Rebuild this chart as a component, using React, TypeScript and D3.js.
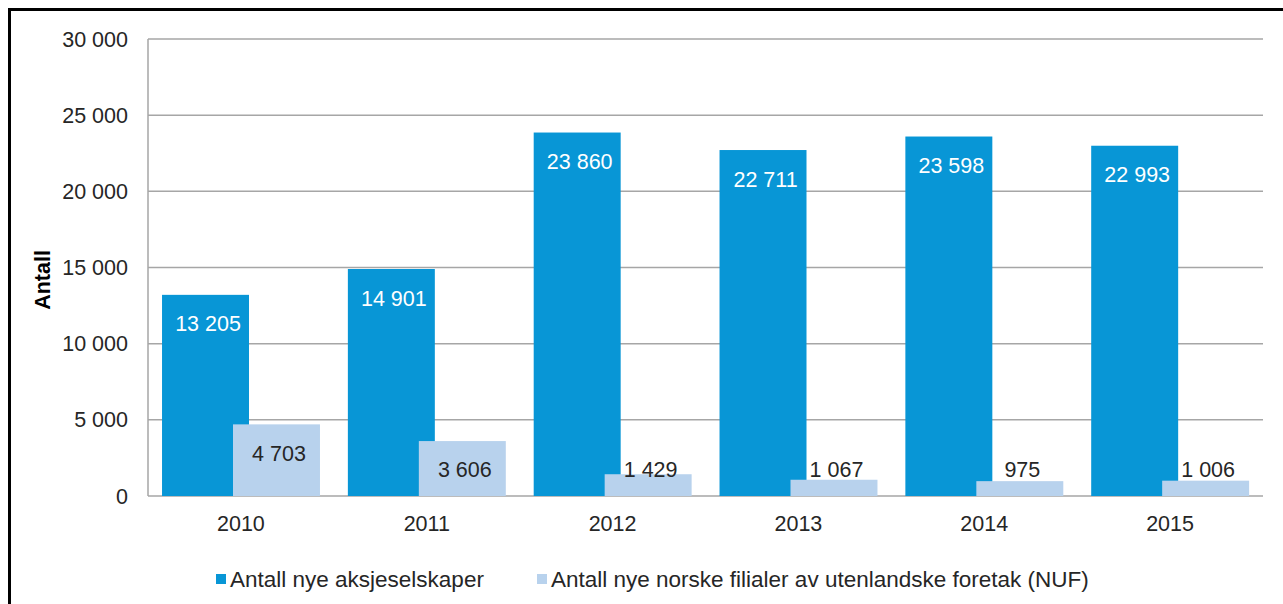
import React from 'react';
import * as d3 from 'd3';

const years = ['2010', '2011', '2012', '2013', '2014', '2015'];
const aksjeselskaper = [13205, 14901, 23860, 22711, 23598, 22993];
const nuf = [4703, 3606, 1429, 1067, 975, 1006];
const yTicks = [0, 5000, 10000, 15000, 20000, 25000, 30000];
const seriesNames = [
  'Antall nye aksjeselskaper',
  'Antall nye norske filialer av utenlandske foretak (NUF)',
];

const W = 1283;
const H = 604;
const FONT = '"Liberation Sans", Arial, sans-serif';
const BLUE = '#0896d6';
const LIGHT = '#b8d2ed';
const TEXT = '#262626';

const fmt = (v: number) => d3.format(',')(v).replace(/,/g, ' ');

export default function App() {
  const x = d3.scaleBand().domain(years).range([148, 1263]).padding(0);
  const y = d3.scaleLinear().domain([0, 30000]).range([496, 39]);
  const bw = x.bandwidth();
  const barW = bw * 0.468;
  const off1 = bw * 0.0755;
  const off2 = off1 + barW * 0.816;

  return (
    <svg
      width={W}
      height={H}
      style={{ position: 'absolute', left: 0, top: 0, background: '#fff' }}
      fontFamily={FONT}
    >
      <rect x={9.5} y={9.5} width={W + 20} height={H + 20} fill="none" stroke="#000" strokeWidth={3} />

      {yTicks.map((t) => (
        <g key={t}>
          <line x1={148} x2={1263} y1={y(t)} y2={y(t)} stroke="#a6a6a6" strokeWidth={1.5} />
          <text x={128} y={y(t)} dy="0.35em" textAnchor="end" fontSize={21.5} fill={TEXT}>
            {fmt(t)}
          </text>
        </g>
      ))}
      <line x1={148} x2={148} y1={y(30000)} y2={y(0)} stroke="#a6a6a6" strokeWidth={1.5} />

      <text
        transform="translate(50,280) rotate(-90)"
        textAnchor="middle"
        fontSize={21.5}
        fontWeight="bold"
        fill="#000"
      >
        Antall
      </text>

      {years.map((yr, i) => {
        const x0 = x(yr)!;
        const t1 = y(aksjeselskaper[i]);
        const t2 = y(nuf[i]);
        return (
          <g key={yr}>
            <rect x={x0 + off1} y={t1} width={barW} height={y(0) - t1} fill={BLUE} />
            <rect x={x0 + off2} y={t2} width={barW} height={y(0) - t2} fill={LIGHT} />
            <text
              x={x0 + off1 + barW / 2 + 2.5}
              y={t1 + 29}
              dy="0.35em"
              textAnchor="middle"
              fontSize={21.5}
              fill="#fff"
            >
              {fmt(aksjeselskaper[i])}
            </text>
            <text
              x={x0 + off2 + barW / 2 + 2.5}
              y={Math.min(t2 + 29, 469)}
              dy="0.35em"
              textAnchor="middle"
              fontSize={21.5}
              fill={TEXT}
            >
              {fmt(nuf[i])}
            </text>
            <text x={x0 + bw / 2} y={523} dy="0.35em" textAnchor="middle" fontSize={21.5} fill={TEXT}>
              {yr}
            </text>
          </g>
        );
      })}

      {seriesNames.map((name, i) => {
        const lx = i === 0 ? 216 : 537;
        return (
          <g key={name}>
            <rect x={lx} y={574} width={10} height={10} fill={i === 0 ? BLUE : LIGHT} />
            <text x={lx + 14} y={587} fontSize={22.5} fill={TEXT}>
              {name}
            </text>
          </g>
        );
      })}
    </svg>
  );
}
